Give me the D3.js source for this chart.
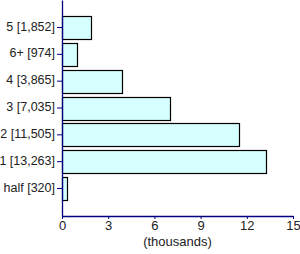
<!DOCTYPE html>
<html>
<head>
<meta charset="utf-8">
<script src="https://cdn.jsdelivr.net/npm/d3@7"></script>
<style>
  body { margin: 0; background: #fff; }
  text { font-family: "Liberation Sans", Arial, sans-serif; }
</style>
</head>
<body>
<div id="chart"></div>
<script>
// categories top to bottom, with counts
let labels = ["5 [1,852]", "6+ [974]", "4 [3,865]", "3 [7,035]", "2 [11,505]", "1 [13,263]", "half [320]"];
let counts = [1852, 974, 3865, 7035, 11505, 13263, 320];
let xTicks = [0, 3, 6, 9, 12, 15];

let width = 300, height = 254;
let margin = {left: 62, right: 7, top: 0, bottom: 38};

let svg = d3.select("#chart").append("svg")
    .attr("width", width)
    .attr("height", height);

let x = d3.scaleLinear()
    .domain([0, 15])
    .range([margin.left, width - margin.right]);

let y = d3.scaleBand()
    .domain(labels)
    .range([margin.top, height - margin.bottom])
    .paddingInner(0.15)
    .paddingOuter(0.6);

let data = labels.map((l, i) => ({label: l, value: counts[i] / 1000}));

// bars
svg.selectAll(".bar").data(data)
    .enter()
    .append("rect")
    .attr("class", "bar")
    .attr("x", x(0) + 0.5)
    .attr("y", d => Math.round(y(d.label)) + 0.5)
    .attr("width", d => Math.round(x(d.value) - x(0)))
    .attr("height", Math.round(y.bandwidth()))
    .attr("fill", "#d6ffff")
    .attr("stroke", "#000")
    .attr("stroke-width", 1.2);

// y axis
let yAxis = svg.append("g")
    .attr("transform", `translate(${x(0)},0)`)
    .call(d3.axisLeft(y).tickSize(5).tickSizeOuter(0));

// x axis
let xAxis = svg.append("g")
    .attr("transform", `translate(0,${height - margin.bottom})`)
    .call(d3.axisBottom(x).tickValues(xTicks).tickSize(3).tickSizeOuter(0));

[yAxis, xAxis].forEach(g => {
    g.select(".domain").attr("stroke", "#000080").attr("stroke-width", 1.3);
    g.selectAll(".tick line").attr("stroke", "#000080");
    g.selectAll("text").attr("fill", "#222").attr("font-size", "12.5px")
        .attr("font-family", "Liberation Sans, Arial, sans-serif");
});
yAxis.selectAll("text").attr("x", -7).attr("dy", "0.25em");
xAxis.selectAll("text").attr("y", 5).attr("font-size", "13px");

svg.append("text")
    .attr("x", (x(0) + x(15)) / 2)
    .attr("y", 246)
    .attr("text-anchor", "middle")
    .attr("font-size", "13px")
    .attr("fill", "#222")
    .text("(thousands)");
</script>
</body>
</html>
